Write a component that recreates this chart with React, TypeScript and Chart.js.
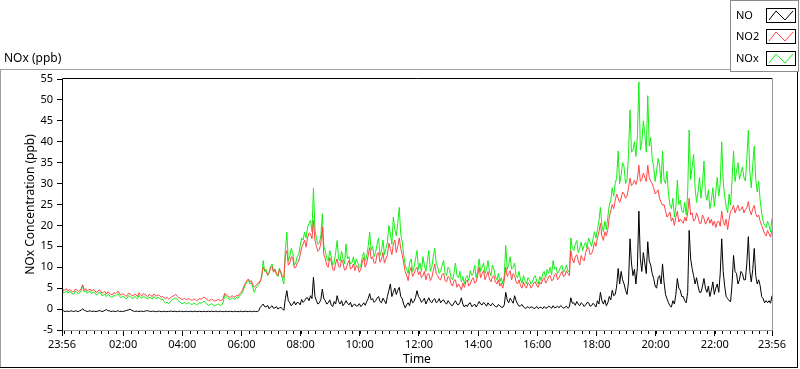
import React, { useEffect, useRef } from 'react';
import { Chart, registerables } from 'chart.js';

Chart.register(...registerables);

// sampling interval of the series (minutes after 23:56)
const stepMinutes = 3;

// NO (ppb)
const noValues: number[] = [
  -0.5, -0.4, -0.6, -0.5, -0.5, -0.6, -0.4, -0.5, -0.6, -0.4, -0.5, -0.6, -0.4, -0.3, 0.1, -0.3, -0.4, -0.6, -0.5, -0.4,
  -0.6, -0.5, -0.5, -0.6, -0.5, -0.4, -0.4, -0.6, -0.5, -0.3, -0.1, -0.4, -0.4, -0.6, -0.5, -0.5, -0.6, -0.5, -0.4, -0.6,
  -0.5, -0.6, -0.5, -0.4, -0.3, -0.2, 0.0, -0.3, -0.4, -0.6, -0.5, -0.5, -0.6, -0.5, -0.5, -0.6, -0.5, -0.4, -0.4, -0.5,
  -0.6, -0.5, -0.5, -0.6, -0.6, -0.5, -0.5, -0.6, -0.6, -0.5, -0.6, -0.6, -0.6, -0.5, -0.5, -0.6, -0.5, -0.6, -0.6, -0.5,
  -0.6, -0.5, -0.6, -0.6, -0.5, -0.6, -0.6, -0.5, -0.6, -0.6, -0.5, -0.6, -0.6, -0.5, -0.6, -0.6, -0.5, -0.6, -0.6, -0.5,
  -0.6, -0.5, -0.6, -0.6, -0.5, -0.6, -0.6, -0.5, -0.6, -0.6, -0.6, -0.5, -0.6, -0.6, -0.5, -0.6, -0.6, -0.5, -0.6, -0.6,
  -0.6, -0.5, -0.6, -0.6, -0.5, -0.6, -0.6, -0.5, -0.6, -0.6, -0.5, -0.6, -0.6, -0.4, 0.4, 0.8, 1.2, 0.6, 0.5, 0.9,
  0.1, 0.5, 0.8, 0.2, 0.3, 0.6, 0.0, 0.3, 0.4, 0.1, -0.3, 2.5, 4.4, 2.0, 1.5, 0.8, 1.2, 1.8, 1.0, 1.6,
  1.5, 1.0, 2.3, 1.6, 2.0, 2.6, 2.7, 2.0, 3.2, 2.5, 7.6, 3.0, 2.0, 1.2, 1.5, 2.3, 4.8, 2.5, 2.0, 1.2,
  1.5, 2.2, 1.0, 0.6, 1.8, 1.2, 3.2, 1.8, 1.2, 2.0, 0.8, 1.3, 2.0, 1.4, 1.0, 1.6, 0.5, 1.0, 1.2, 0.7,
  0.8, 1.3, 0.6, 1.0, 1.5, 0.9, 1.8, 2.5, 3.7, 2.2, 2.5, 1.6, 2.0, 2.6, 3.0, 1.8, 1.5, 2.6, 2.0, 1.3,
  3.0, 4.5, 6.0, 3.0, 4.0, 5.0, 3.5, 4.5, 5.2, 3.0, 2.5, 1.2, 0.3, 1.0, 1.5, 0.8, 2.5, 1.5, 1.8, 2.8,
  4.4, 3.0, 2.5, 1.6, 2.0, 2.6, 1.2, 2.0, 2.7, 1.8, 1.5, 2.2, 2.5, 1.5, 1.8, 2.5, 1.5, 2.0, 2.2, 1.5,
  1.2, 2.0, 1.5, 1.0, 0.8, 1.5, 2.0, 1.2, 1.0, 1.6, 2.7, 1.2, 0.5, 1.0, 0.6, 1.3, 1.5, 0.6, 0.8, 1.2,
  0.5, 1.1, 1.8, 1.2, 1.0, 1.6, 1.2, 0.7, 1.5, 1.0, 0.8, 1.4, 1.0, 0.6, 0.5, 1.1, 0.8, 0.5, 0.4, 1.0,
  4.0, 2.2, 1.5, 2.6, 2.0, 1.4, 3.2, 2.0, 1.2, 0.7, 0.8, 1.1, 0.5, 0.2, 0.3, 0.6, 0.2, 0.5, 0.5, 0.1,
  0.3, 0.6, 0.1, 0.4, 0.4, 0.1, 0.6, 0.2, 0.3, 0.7, 0.5, 0.2, 0.8, 0.3, 0.4, 0.7, 0.3, 0.8, 0.6, 0.2,
  0.4, 0.7, 0.2, 0.5, 2.7, 1.4, 1.5, 0.9, 1.8, 1.2, 0.8, 1.5, 1.2, 0.6, 1.0, 1.6, 1.5, 0.7, 0.8, 1.4,
  1.0, 0.5, 2.0, 1.2, 4.0, 2.0, 1.2, 2.2, 0.8, 1.5, 3.0, 2.2, 4.5, 3.2, 3.5, 5.5, 9.7, 6.0, 9.0, 7.0,
  6.0, 4.5, 3.5, 6.5, 16.8, 11.0, 8.0, 9.5, 6.0, 10.0, 23.4, 12.0, 9.0, 13.5, 11.0, 8.5, 16.1, 11.5, 10.5, 8.5,
  7.3, 5.5, 5.0, 7.5, 8.0, 6.0, 10.8, 6.5, 3.5, 2.5, 1.5, 0.8, 0.5, 2.0, 1.2, 3.5, 7.3, 5.0, 4.5, 3.0,
  3.0, 2.0, 1.5, 4.0, 18.8, 12.0, 9.7, 8.0, 6.0, 7.5, 5.5, 4.0, 4.0, 5.5, 7.3, 5.0, 4.0, 5.5, 3.0, 4.5,
  6.5, 3.5, 5.0, 6.0, 4.0, 8.5, 16.8, 9.0, 5.5, 3.0, 2.5, 2.0, 1.8, 6.0, 12.8, 9.0, 8.5, 6.0, 7.0, 9.0,
  8.5, 7.0, 7.0, 11.0, 17.3, 9.0, 6.5, 9.5, 14.5, 8.0, 6.0, 7.0, 5.6, 3.0, 2.5, 1.5, 2.0, 1.5, 2.0, 1.4,
  3.2,
];

// NO2 (ppb)
const no2Values: number[] = [
  5.3, 4.4, 4.6, 4.9, 4.3, 4.7, 4.5, 4.1, 4.2, 4.8, 4.6, 4.2, 4.4, 4.9, 5.8, 4.5, 4.9, 4.3, 4.6, 4.8,
  4.3, 4.7, 4.5, 4.0, 4.1, 4.6, 4.4, 3.8, 4.0, 4.2, 3.6, 4.1, 3.9, 3.5, 3.4, 3.9, 3.7, 4.0, 4.3, 3.6,
  3.3, 3.7, 3.5, 3.1, 3.2, 3.8, 3.6, 3.3, 3.1, 3.6, 3.4, 3.0, 3.9, 3.4, 3.2, 3.7, 3.5, 3.2, 3.0, 3.5,
  3.3, 3.0, 3.6, 3.3, 3.1, 3.4, 3.2, 2.9, 3.0, 2.7, 2.5, 2.8, 2.4, 2.6, 2.9, 3.1, 3.3, 3.5, 3.0, 2.7,
  2.6, 2.3, 2.4, 2.6, 2.2, 2.4, 2.5, 2.2, 2.1, 2.4, 2.3, 2.0, 2.2, 2.5, 2.4, 2.6, 2.9, 2.5, 2.3, 2.0,
  2.1, 2.4, 2.2, 1.9, 2.0, 2.2, 2.3, 2.0, 2.1, 2.6, 3.8, 3.4, 3.2, 2.8, 2.9, 3.2, 3.0, 2.8, 3.3, 3.1,
  3.6, 4.0, 4.5, 5.5, 6.2, 6.8, 7.2, 6.5, 6.8, 5.8, 5.2, 5.6, 6.0, 6.4, 6.5, 8.0, 10.0, 9.3, 9.0, 8.2,
  8.6, 9.8, 10.2, 8.8, 9.4, 8.5, 8.0, 9.5, 8.8, 7.8, 7.5, 13.0, 14.0, 10.5, 11.0, 12.5, 12.3, 9.8, 10.0, 11.0,
  11.5, 13.0, 14.7, 15.5, 16.5, 14.8, 17.0, 18.2, 18.0, 16.8, 21.2, 16.5, 15.0, 13.8, 14.2, 15.8, 19.6, 13.0, 12.0, 10.5,
  10.0, 12.3, 11.5, 9.5, 9.2, 11.0, 12.0, 10.2, 10.0, 11.8, 11.0, 9.3, 9.5, 10.8, 11.6, 9.6, 9.8, 10.8, 9.2, 10.5,
  10.0, 8.8, 9.5, 11.2, 12.3, 10.0, 11.0, 12.8, 14.7, 12.0, 12.5, 11.0, 11.0, 13.2, 13.5, 11.2, 12.0, 13.5, 11.0, 12.0,
  13.0, 15.8, 14.5, 13.0, 15.5, 16.5, 13.5, 15.0, 17.0, 14.5, 13.0, 11.0, 9.0, 8.0, 6.8, 9.0, 10.0, 7.8, 8.5, 9.5,
  10.0, 8.2, 9.0, 7.5, 8.0, 9.0, 7.0, 8.3, 8.5, 6.8, 7.5, 9.2, 10.8, 8.5, 8.0, 7.2, 7.0, 8.3, 8.5, 6.8,
  6.5, 7.8, 7.5, 6.0, 5.5, 6.8, 7.0, 5.2, 6.0, 5.5, 4.5, 6.2, 5.2, 6.5, 7.0, 5.5, 6.0, 7.0, 7.5, 6.2,
  6.5, 8.0, 10.0, 7.5, 8.5, 9.2, 7.0, 8.0, 9.0, 7.2, 6.5, 7.8, 8.0, 6.5, 6.0, 7.0, 5.5, 6.2, 5.0, 6.8,
  10.0, 7.8, 8.5, 9.2, 7.0, 8.5, 8.0, 6.5, 6.0, 7.0, 5.5, 5.0, 6.5, 5.5, 5.0, 6.3, 6.0, 5.0, 5.5, 6.3,
  6.5, 5.5, 5.2, 6.5, 6.0, 7.0, 7.5, 6.2, 6.8, 7.8, 8.0, 6.8, 7.0, 8.2, 8.5, 7.0, 7.5, 8.3, 9.0, 7.8,
  8.0, 9.2, 8.5, 8.0, 14.0, 12.0, 11.0, 12.5, 13.0, 11.5, 10.5, 12.8, 12.0, 11.5, 13.5, 14.5, 14.7, 13.0, 13.2, 14.2,
  16.0, 15.0, 17.0, 18.5, 20.5, 17.5, 16.4, 18.5, 17.5, 19.0, 22.0, 23.5, 25.0, 24.0, 26.0, 27.5, 26.5, 25.5, 26.5, 28.0,
  27.5, 26.5, 27.0, 29.0, 31.3, 29.5, 30.0, 30.8, 29.8, 31.0, 34.4, 30.5, 31.0, 32.5, 31.5, 30.5, 34.4, 31.5, 30.5, 30.0,
  29.0, 27.5, 28.0, 28.5, 26.5, 25.5, 24.8, 25.0, 23.5, 22.0, 22.5, 23.2, 21.0, 21.8, 20.0, 22.0, 23.4, 20.8, 21.5, 21.0,
  20.5, 22.0, 21.0, 23.0, 26.5, 22.5, 23.0, 21.0, 21.5, 23.0, 22.0, 20.5, 20.5, 22.5, 21.7, 20.3, 21.0, 22.0, 20.5, 21.5,
  20.0, 21.0, 19.5, 20.8, 21.0, 19.8, 23.4, 21.0, 20.0, 21.5, 19.0, 21.5, 23.4, 23.8, 24.8, 23.0, 24.0, 24.8, 23.5, 23.8,
  24.5, 23.0, 23.8, 24.2, 25.7, 23.5, 22.5, 24.0, 24.8, 22.8, 22.0, 22.5, 21.0, 20.0, 19.0, 18.0, 17.5, 18.8, 18.0, 17.2,
  19.0,
];

// NOx (ppb)
const noxValues: number[] = [
  4.8, 3.9, 4.0, 4.3, 3.8, 4.2, 4.1, 3.6, 3.6, 4.3, 4.0, 3.7, 3.9, 4.4, 5.7, 4.1, 4.4, 3.8, 4.1, 4.3,
  3.7, 4.1, 4.0, 3.4, 3.5, 4.0, 3.9, 3.2, 3.4, 3.6, 3.0, 3.5, 3.3, 2.9, 2.8, 3.3, 3.1, 3.4, 3.7, 3.0,
  2.7, 3.1, 2.9, 2.5, 2.6, 3.2, 3.0, 2.7, 2.5, 3.0, 2.8, 2.4, 3.3, 2.8, 2.6, 3.1, 2.9, 2.6, 2.4, 2.9,
  2.7, 2.4, 3.0, 2.7, 2.5, 2.8, 2.6, 2.3, 2.4, 1.8, 1.4, 1.7, 1.3, 1.6, 2.1, 2.4, 2.5, 2.7, 2.2, 1.9,
  1.6, 1.3, 1.4, 1.6, 1.2, 1.4, 1.5, 1.2, 1.1, 1.4, 1.3, 1.0, 1.2, 1.5, 1.4, 1.6, 1.9, 1.5, 1.2, 0.9,
  1.0, 1.3, 1.1, 0.8, 0.9, 1.1, 1.2, 0.9, 1.0, 1.6, 3.4, 3.0, 2.6, 2.3, 2.4, 2.7, 2.5, 2.3, 2.8, 2.6,
  3.1, 3.5, 4.0, 5.0, 5.8, 6.5, 7.0, 6.0, 6.3, 5.2, 4.0, 5.0, 5.4, 5.9, 6.8, 7.5, 11.6, 9.0, 9.5, 8.0,
  8.8, 10.2, 10.8, 9.0, 9.6, 8.2, 7.8, 9.8, 8.5, 7.2, 6.0, 14.0, 18.4, 11.5, 12.5, 14.5, 13.5, 10.5, 11.0, 12.5,
  13.0, 15.0, 17.0, 16.5, 18.4, 17.0, 19.6, 20.5, 21.2, 18.5, 28.9, 19.0, 17.0, 15.5, 15.8, 17.5, 22.8, 15.0, 14.0, 12.0,
  11.5, 14.0, 12.5, 10.5, 11.0, 13.5, 16.4, 12.0, 11.5, 13.8, 12.0, 10.8, 15.6, 12.0, 12.5, 10.8, 11.0, 12.5, 10.5, 12.0,
  11.0, 9.8, 10.2, 12.5, 13.5, 11.5, 12.5, 15.0, 18.4, 14.0, 15.0, 12.5, 13.5, 15.5, 17.0, 12.8, 14.0, 16.5, 13.0, 14.5,
  16.0, 20.0, 18.0, 15.5, 22.0, 19.0, 17.5, 20.5, 24.3, 18.0, 16.0, 13.0, 10.5, 9.5, 8.5, 11.0, 12.0, 9.0, 10.0, 12.0,
  14.0, 9.5, 11.0, 9.0, 12.5, 10.5, 9.0, 11.5, 14.0, 9.0, 10.0, 12.5, 14.5, 11.0, 10.0, 8.5, 9.0, 10.5, 11.6, 8.5,
  8.0, 10.0, 9.5, 7.5, 7.0, 8.5, 11.0, 8.0, 7.5, 9.0, 6.5, 7.8, 6.0, 7.5, 8.0, 6.8, 9.2, 8.0, 8.5, 10.5,
  7.5, 9.0, 12.0, 9.0, 10.0, 11.0, 8.5, 9.5, 11.6, 9.0, 8.0, 10.5, 9.5, 7.8, 7.0, 8.5, 6.5, 7.5, 6.0, 8.0,
  15.2, 9.5, 10.5, 12.5, 9.5, 10.0, 11.0, 8.0, 7.5, 9.0, 7.0, 6.2, 8.0, 6.8, 6.0, 7.5, 7.0, 6.0, 6.5, 7.5,
  8.0, 6.5, 6.0, 7.8, 6.8, 8.5, 9.0, 7.5, 9.5, 8.5, 10.0, 8.2, 11.6, 9.5, 10.0, 8.5, 9.0, 10.0, 10.5, 8.8,
  9.5, 10.5, 9.2, 8.8, 17.0, 14.5, 14.0, 15.5, 16.4, 13.5, 14.5, 16.0, 14.0, 15.2, 16.0, 14.5, 17.0, 16.0, 15.0, 16.8,
  18.5, 17.0, 19.0, 21.0, 24.3, 20.0, 18.5, 21.0, 19.0, 22.0, 24.8, 26.0, 29.0, 27.0, 30.0, 31.5, 37.8, 30.0, 32.0, 35.0,
  34.0, 30.0, 31.0, 37.0, 47.6, 37.5, 38.0, 40.0, 36.5, 41.5, 54.3, 38.0, 40.0, 45.0, 42.0, 37.5, 51.0, 39.0, 41.0, 36.0,
  34.0, 30.5, 33.0, 36.0, 34.4, 30.0, 37.8, 31.0, 30.0, 33.0, 27.5, 25.0, 24.0, 26.5, 22.0, 24.5, 30.8, 25.0, 26.0, 23.5,
  23.0, 25.5, 22.5, 28.0, 42.8, 31.0, 34.0, 37.0, 29.0, 25.5, 28.0, 31.5, 26.5, 30.0, 35.4, 27.5, 26.0, 28.5, 24.0, 26.0,
  29.0, 24.5, 28.0, 31.5, 27.0, 30.0, 40.0, 30.5, 27.0, 24.5, 23.0, 27.5, 24.8, 31.0, 37.8, 30.5, 33.0, 35.0, 31.0, 32.5,
  34.0, 31.5, 30.6, 36.0, 42.8, 33.0, 29.0, 34.5, 39.0, 31.0, 28.0, 30.5, 26.0, 23.0, 21.0, 20.0, 19.5, 21.0, 20.0, 18.5,
  21.7,
];

const seriesNames = ['NO', 'NO2', 'NOx'];
const seriesColors = ['#000000', '#ff4646', '#14f014'];

// x axis: minutes after 23:56
const xMin = 0;
const xMax = 1440;
const xTickMinutes = [0, 124, 244, 364, 484, 604, 724, 844, 964, 1084, 1204, 1324, 1440];
const xTickLabels = ['23:56', '02:00', '04:00', '06:00', '08:00', '10:00', '12:00', '14:00', '16:00', '18:00', '20:00', '22:00', '23:56'];
const xMinorStart = 4;
const xMinorStep = 15;

const yMin = -5;
const yMax = 55;
const yTicks = [-5, 0, 5, 10, 15, 20, 25, 30, 35, 40, 45, 50, 55];

const yTitle = 'NOx Concentration (ppb)';
const xTitle = 'Time';
const panelTitle = 'NOx (ppb)';

const FONT = '"Noto Sans", sans-serif';

const toPoints = (vals: number[]) => vals.map((v, i) => ({ x: i * stepMinutes, y: v }));

const chromePlugin = {
  id: 'chrome',
  beforeDraw(chart: any) {
    const ctx = chart.ctx;
    ctx.save();
    ctx.fillStyle = '#ffffff';
    ctx.fillRect(0, 0, chart.width, chart.height);
    ctx.restore();
  },
  afterDraw(chart: any) {
    const ctx = chart.ctx as CanvasRenderingContext2D;
    const a = chart.chartArea;
    const xs = chart.scales.x;
    ctx.save();
    ctx.lineWidth = 1;

    // minor x ticks
    ctx.strokeStyle = '#000';
    ctx.beginPath();
    for (let m = xMinorStart; m < xMax; m += xMinorStep) {
      const px = Math.round(xs.getPixelForValue(m)) + 0.5;
      ctx.moveTo(px, a.bottom);
      ctx.lineTo(px, a.bottom + 4);
    }
    ctx.stroke();

    // plot frame
    const L = Math.round(a.left) + 0.5;
    const R = Math.round(a.right) + 0.5;
    const T = Math.round(a.top) - 0.5;
    const B = Math.round(a.bottom) + 0.5;
    ctx.strokeStyle = '#000';
    ctx.beginPath();
    ctx.moveTo(L, B);
    ctx.lineTo(L, T);
    ctx.lineTo(R, T);
    ctx.stroke();
    ctx.strokeStyle = '#9a9a9a';
    ctx.beginPath();
    ctx.moveTo(R, T);
    ctx.lineTo(R, B);
    ctx.lineTo(L + 1, B);
    ctx.stroke();

    // outer panel
    ctx.strokeStyle = '#a0a0a0';
    ctx.beginPath();
    ctx.moveTo(0, 69.5);
    ctx.lineTo(731, 69.5);
    ctx.moveTo(0.5, 69);
    ctx.lineTo(0.5, 368);
    ctx.stroke();
    ctx.strokeStyle = '#000';
    ctx.beginPath();
    ctx.moveTo(0, 367.5);
    ctx.lineTo(798, 367.5);
    ctx.moveTo(797.5, 72);
    ctx.lineTo(797.5, 368);
    ctx.stroke();

    // titles
    ctx.fillStyle = '#000';
    ctx.font = `12px ${FONT}`;
    ctx.textBaseline = 'middle';
    ctx.textAlign = 'left';
    ctx.fillText(panelTitle, 4, 59);
    ctx.textAlign = 'center';
    ctx.fillText(xTitle, (a.left + a.right) / 2, 360);
    ctx.save();
    ctx.translate(31, (a.top + a.bottom) / 2);
    ctx.rotate(-Math.PI / 2);
    ctx.fillText(yTitle, 0, 0);
    ctx.restore();

    // legend box
    ctx.fillStyle = '#ffffff';
    ctx.fillRect(730, 0, 70, 72);
    ctx.strokeStyle = '#8a8a8a';
    ctx.strokeRect(730.5, 0.5, 68, 71);
    const rowTops = [8, 29, 51];
    ctx.font = `11px ${FONT}`;
    ctx.textAlign = 'left';
    seriesNames.forEach((name, k) => {
      const top = rowTops[k];
      const h = 14;
      ctx.fillStyle = '#000';
      ctx.fillText(name, 736, top + h / 2 + 0.5);
      ctx.strokeStyle = '#000';
      ctx.strokeRect(766.5, top + 0.5, 29, h);
      ctx.strokeStyle = seriesColors[k];
      ctx.beginPath();
      ctx.moveTo(769, top + h - 2);
      ctx.lineTo(776, top + 3);
      ctx.lineTo(785, top + h - 2);
      ctx.lineTo(793, top + 3);
      ctx.stroke();
    });

    ctx.restore();
  },
};

export default function App() {
  const canvasRef = useRef<HTMLCanvasElement | null>(null);

  useEffect(() => {
    const canvas = canvasRef.current;
    if (!canvas) return;
    const values = [noValues, no2Values, noxValues];
    const chart = new Chart(canvas, {
      type: 'line',
      data: {
        datasets: seriesNames.map((name, k) => ({
          label: name,
          data: toPoints(values[k]),
          borderColor: seriesColors[k],
          backgroundColor: seriesColors[k],
          borderWidth: 1,
          pointRadius: 0,
          tension: 0,
          fill: false,
        })),
      },
      options: {
        responsive: false,
        animation: false,
        events: [],
        layout: { padding: { left: 0, top: 79, right: 28, bottom: 0 } },
        plugins: {
          legend: { display: false },
          tooltip: { enabled: false },
          title: { display: false },
        },
        scales: {
          x: {
            type: 'linear',
            min: xMin,
            max: xMax,
            afterBuildTicks: (s: any) => {
              s.ticks = xTickMinutes.map((v) => ({ value: v }));
            },
            afterFit: (s: any) => {
              s.height = 39;
            },
            ticks: {
              autoSkip: false,
              maxRotation: 0,
              padding: 2,
              color: '#000',
              font: { family: FONT, size: 11 },
              callback: (v: any) => {
                const k = xTickMinutes.indexOf(Number(v));
                return k >= 0 ? xTickLabels[k] : '';
              },
            },
            grid: {
              display: true,
              drawOnChartArea: false,
              drawTicks: true,
              tickLength: 6,
              color: '#000',
              lineWidth: 1,
            },
            border: { display: false },
          },
          y: {
            type: 'linear',
            min: yMin,
            max: yMax,
            afterBuildTicks: (s: any) => {
              s.ticks = yTicks.map((v) => ({ value: v }));
            },
            afterFit: (s: any) => {
              s.width = 62;
            },
            ticks: {
              padding: 4,
              color: '#000',
              font: { family: FONT, size: 11 },
            },
            grid: {
              display: true,
              drawOnChartArea: false,
              drawTicks: true,
              tickLength: 5,
              color: '#000',
              lineWidth: 1,
            },
            border: { display: false },
          },
        },
      } as any,
      plugins: [chromePlugin],
    });
    return () => chart.destroy();
  }, []);

  return (
    <div style={{ position: 'absolute', left: 0, top: 0, width: 800, height: 369, background: '#fff' }}>
      <canvas ref={canvasRef} width={800} height={369} style={{ display: 'block' }} />
    </div>
  );
}
